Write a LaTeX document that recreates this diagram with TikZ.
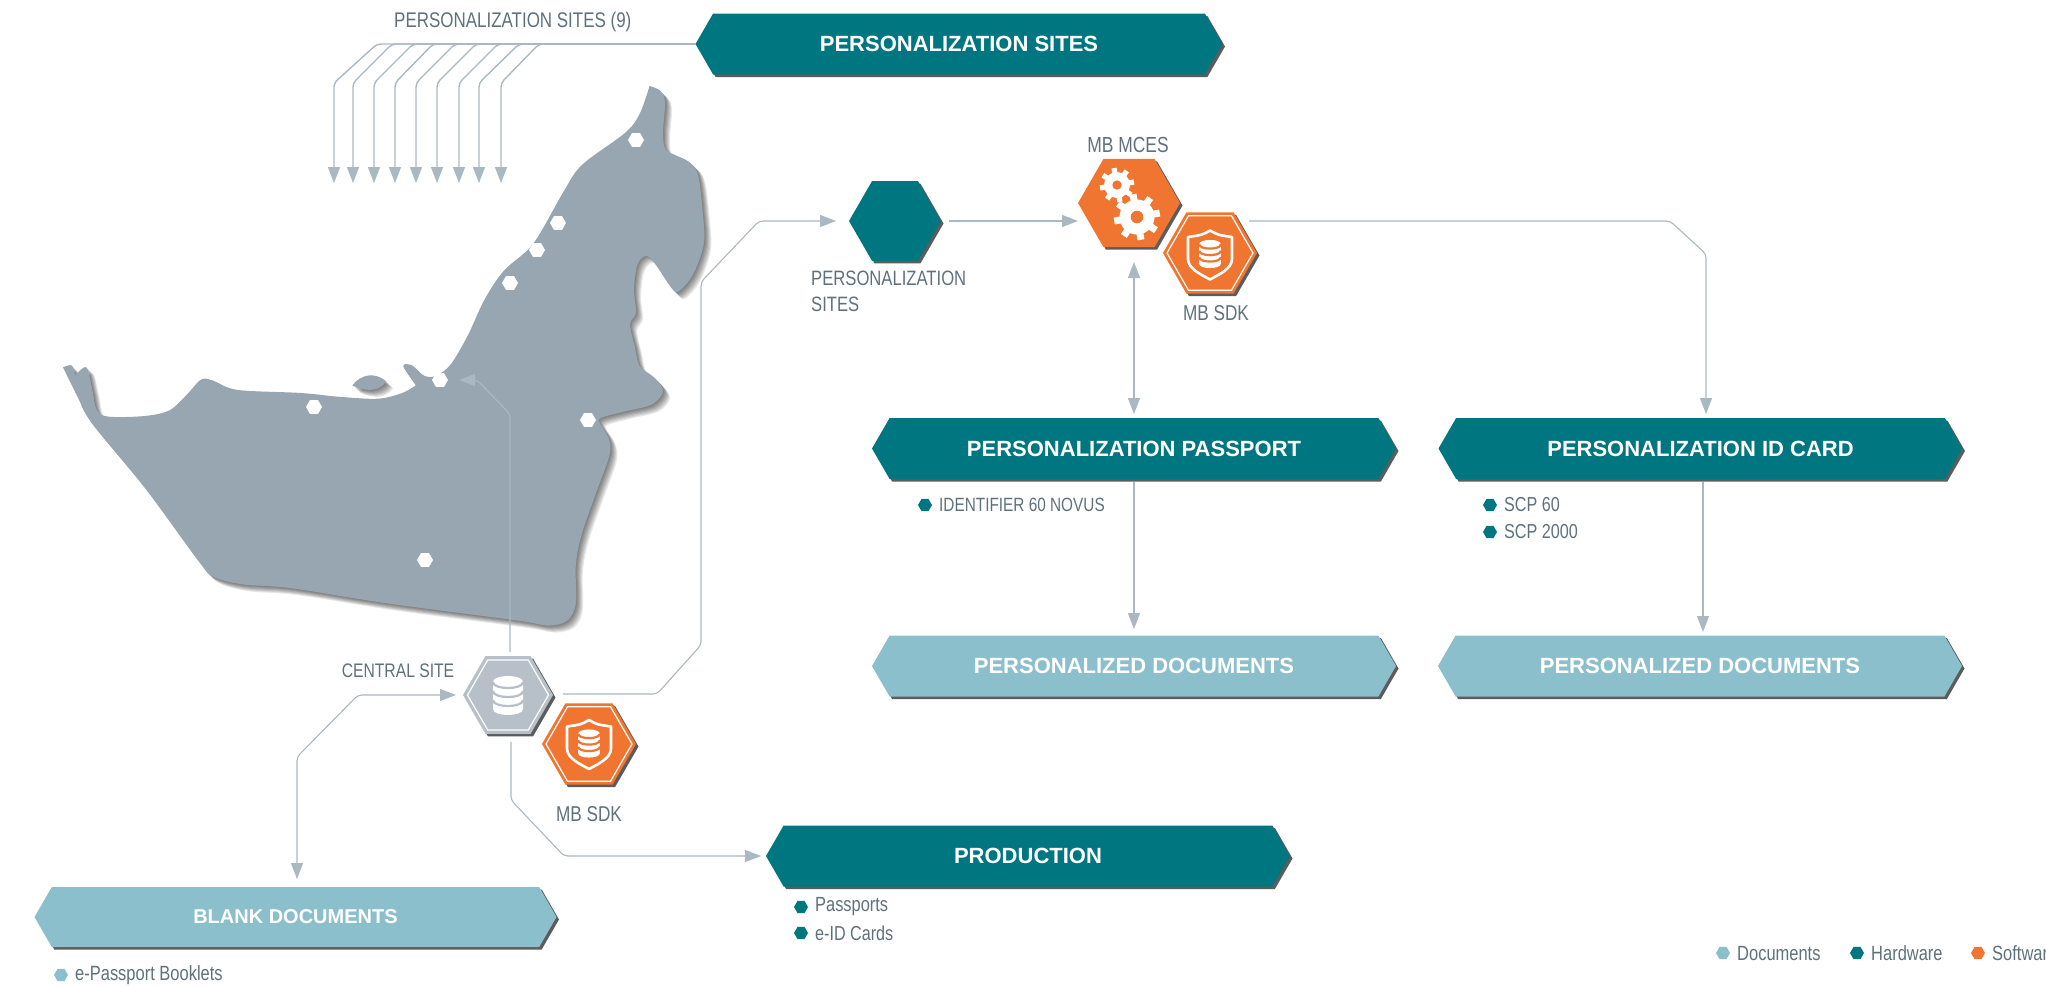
\documentclass[tikz,border=0pt]{standalone}
\usepackage{fontspec}
\setmainfont{Liberation Sans}
\newfontfamily\thinfont[FakeStretch=0.8]{Liberation Sans}
\usetikzlibrary{arrows.meta,shapes.geometric,shapes.symbols,shadows}
\definecolor{tealhw}{HTML}{007681}
\definecolor{bluedoc}{HTML}{8BBFCB}
\definecolor{orangesw}{HTML}{F07530}
\definecolor{greydb}{HTML}{B7C0C8}
\definecolor{mapgrey}{HTML}{97A6B1}
\definecolor{linkgrey}{HTML}{AAB8C1}
\definecolor{inkgrey}{HTML}{5F717B}
\tikzset{
  hardshadow/.style = {drop shadow={shadow xshift=2.5pt,shadow yshift=-2.5pt,fill=black!80,opacity=.8}},
  banner/.style = {%
    shape= signal,
    signal to= east and west,
    signal pointer angle= 120,
    minimum width = 524pt,
    minimum height = 61pt,
    inner sep = 0pt, outer sep = 0pt,
    text = white,
    font = \bfseries\fontsize{22}{26}\selectfont,
    hardshadow},
  hex/.style = {%
    shape= regular polygon,
    regular polygon sides= 6,
    inner sep = 0pt, outer sep = 0pt,
    minimum size = #1},
  hexline/.style = {hex=#1,draw=white,line width=1.2pt},
  sitelabel/.style = {text=inkgrey,inner sep=0pt,font=\thinfont\fontsize{#1}{26}\selectfont},
  sitelabel/.default = 20.5,
  link/.style = {draw=linkgrey,line width=1.4pt,rounded corners=4pt,-{Triangle[width=12pt,length=16pt]}},
  pics/dbstack/.style = {code={
    \fill[white] (-15,-13.5) .. controls (-15,-21.5) and (15,-21.5) .. (15,-13.5)
      -- (15,13.5) .. controls (15,21.5) and (-15,21.5) .. (-15,13.5) -- cycle;
    \foreach \ly in {-13.5,-4.5,4.5}
      \draw[#1,line width=2.2pt] (-15,\ly) .. controls (-15,\ly+8) and (15,\ly+8) .. (15,\ly);
  }},
  pics/shield/.style = {code={
    \draw[white,line width=2.6pt,line join=round] (0,-24.5) .. controls (-8,-20) .. (-22,-18)
      -- (-22,4) .. controls (-22,14) and (-8,20) .. (0,24.5)
      .. controls (8,20) and (22,14) .. (22,4) -- (22,-18) .. controls (8,-20) .. cycle;
    \pic[scale=.72] at (0,-1) {dbstack=orangesw};
  }},
  pics/gear/.style = {code={
    \foreach \ang in {0,45,90,135}
      \fill[white,rotate=\ang+10] (-.2,-1.32) rectangle (.2,1.32);
    \fill[white] (0,0) circle (1);
    \fill[orangesw] (0,0) circle (.36);
  }},
}
% traced outline of the map, in its own scope
\newcommand{\mapoutline}{
  plot[smooth,tension=.55] coordinates {(1340,68) (1362,80) (1372,110) (1368,190) (1375,235) (1420,265) (1440,300) (1450,400) (1452,480) (1430,560) (1400,605) (1385,595) (1350,530) (1332,512) (1315,535) (1308,600) (1312,660) (1300,690) (1310,750) (1320,800) (1350,830) (1368,865) (1345,900) (1290,918) (1240,935) (1238,950) (1255,985) (1258,1030) (1230,1130) (1200,1240) (1188,1320) (1188,1420) (1170,1465) (1130,1478) (1070,1465) (800,1420) (600,1380) (500,1370) (440,1350) (410,1310) (300,1120) (190,950) (160,880) (130,803)}
  -- plot[smooth,tension=.55] coordinates {(130,803) (148,798) (155,825)}
  -- plot[smooth,tension=.55] coordinates {(155,825) (178,803) (190,860) (200,915) (225,932) (300,930) (350,915) (385,875) (415,835) (440,838) (490,862) (620,870) (700,880) (780,885) (830,870) (858,850)}
  -- plot[smooth,tension=.55] coordinates {(858,850) (832,800) (850,798) (875,825) (900,825) (930,795) (965,720) (1000,625) (1040,550) (1100,480) (1160,350) (1200,275) (1290,190) (1320,140) (1340,68)} -- cycle
  (727,850) .. controls (745,820) and (775,815) .. (797,840) .. controls (780,870) and (750,865) .. (727,850) -- cycle
}
\begin{document}
\begin{tikzpicture}[x=1pt,y=-1pt]
  \useasboundingbox (0,0) rectangle (2046,986);
  % the map
  \begin{scope}[shift={(0,60)},x=.4847pt,y=-.3827pt]
    \foreach \d in {1,...,7}
      \fill[black,opacity=.09,xshift=\d pt,yshift=-\d pt] \mapoutline;
    \fill[mapgrey] \mapoutline;
  \end{scope}
  \foreach \sx/\sy [count=\i] in {636/140,558/223,537/250,510/283,440/380,314/407,588/420,425/560}
    \node[hex=16pt,fill=white] (site\i) at (\sx,\sy) {};

  % banners
  \node[banner,fill=tealhw,minimum width=527pt] (persbanner) at (959,44) {PERSONALIZATION SITES};
  \node[banner,fill=tealhw] (passport) at (1134,448.5) {PERSONALIZATION PASSPORT};
  \node[banner,fill=tealhw] (idcard) at (1700.5,448.5) {PERSONALIZATION ID CARD};
  \node[banner,fill=bluedoc] (docsa) at (1134,666) {PERSONALIZED DOCUMENTS};
  \node[banner,fill=bluedoc] (docsb) at (1700,666) {PERSONALIZED DOCUMENTS};
  \node[banner,fill=tealhw] (production) at (1028,856) {PRODUCTION};
  \node[banner,fill=bluedoc,minimum height=60pt,minimum width=522pt,font=\bfseries\fontsize{20}{24}\selectfont] (blank) at (295.5,917) {BLANK DOCUMENTS};

  % hexagons
  \node[hex=92pt,fill=tealhw,hardshadow] (persites) at (895,221) {};
  \node[hex=102pt,fill=orangesw,hardshadow] (mces) at (1129,203) {};
  \pic[scale=13] at (1117,185) {gear};
  \pic[scale=17.5] at (1137,217) {gear};
  \node[hex=94pt,fill=orangesw,hardshadow] (sdka) at (1210,253) {};
  \node[hexline=86pt] (sdkaline) at (sdka) {};
  \pic at (1210,255) {shield};
  \node[hex=90pt,fill=greydb,hardshadow] (central) at (508,695) {};
  \node[hexline=81pt] (centralline) at (central) {};
  \pic at (508,695.5) {dbstack=greydb};
  \node[hex=94pt,fill=orangesw,hardshadow] (sdkb) at (589,744) {};
  \node[hexline=86pt] (sdkbline) at (sdkb) {};
  \pic at (589,744.5) {shield};

  % connectors
  \foreach \fx/\bx in {334/377,353/392,374/413,395/433,416/455,437/476,459/498,479/519,501/539}
    \draw[link] (persbanner.west) -- (\bx,44) -- (\fx,83) -- (\fx,183);
  \draw[link,line width=1.1pt,shorten <=4pt,shorten >=11pt] ([xshift=2pt]central.north) -- (510,414) -- (477,380) -- (site5);
  \draw[link,line width=1.1pt,shorten <=10pt,shorten >=13pt] ([yshift=1pt]central.east) -- (657,694) -- (701,645) -- (701,282) -- (759,221) -- (persites.west);
  \draw[link,shorten <=8pt] (persites.east) -- (persites.east -| mces.west);
  \draw[link,line width=1.1pt] ([xshift=-8pt]sdka.east |- persites.east) -- (1670,221) -- (1706,254) -- (1706,414);
  \draw[link,{Triangle[width=12pt,length=16pt]}-{Triangle[width=12pt,length=16pt]},shorten >=4pt] (1134,262) -- (passport.north -| 1134,0);
  \draw[link,line width=1.1pt] (passport.south -| 1134,0) ++(0,3) -- (1134,629);
  \draw[link,line width=1.1pt] (idcard.south) ++(2.5,3) -- (1703,632);
  \draw[link,line width=1.1pt,shorten <=8pt] ([xshift=3pt]central.south) -- (511,800) -- (564,856) -- (761,856);
  \draw[link,line width=1.1pt,{Triangle[width=12pt,length=16pt]}-{Triangle[width=12pt,length=16pt]},shorten >=7pt] (297,879) -- (297,757) -- (358,695) -- (central.west);

  % texts
  \node[sitelabel=21.2,anchor=west] (sitescount) at (394,22) {PERSONALIZATION SITES (9)};
  \node[sitelabel=20.8,anchor=west,align=left] (persiteslabel) at (811,291) {PERSONALIZATION\\SITES};
  \node[sitelabel=21.8] (mceslabel) at (1128,145) {MB MCES};
  \node[sitelabel=21.5] (sdkalabel) at (1216,313) {MB SDK};
  \node[sitelabel=19.6] (centrallabel) at (398,671) {CENTRAL SITE};
  \node[sitelabel=21.5] (sdkblabel) at (589,814) {MB SDK};

  % bullet lists and legend
  \foreach \bx/\by/\bc/\bt/\bs [count=\j] in {
      925/505/tealhw/IDENTIFIER 60 NOVUS/19.2,
      1490/505/tealhw/SCP 60/20.2,
      1490/532/tealhw/SCP 2000/20.2,
      801/907/tealhw/Passports/20.5,
      801/933/tealhw/e-ID Cards/20.2,
      61/975/bluedoc/e-Passport Booklets/20.6,
      1723/953/bluedoc/Documents/20.6,
      1857/953/tealhw/Hardware/20.6,
      1978/953/orangesw/Software/20.6}{
    \node[hex=14pt,fill=\bc] (bullet\j) at (\bx,\by) {};
    \node[sitelabel=\bs,anchor=west,xshift=7pt] (item\j) at (bullet\j.east) {\bt};
  }
\end{tikzpicture}
\end{document}
